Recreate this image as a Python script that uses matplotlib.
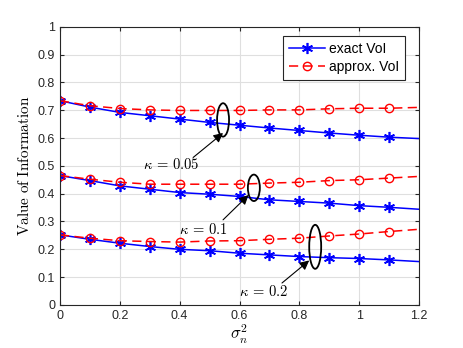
import numpy as np
import matplotlib
matplotlib.use("Agg")
import matplotlib.pyplot as plt
from matplotlib.patches import Ellipse

# noise variance sigma_n^2
sigma2 = [0.0, 0.1, 0.2, 0.3, 0.4, 0.5, 0.6, 0.7, 0.8, 0.9, 1.0, 1.1, 1.2]

# kappa = 0.05
exact_005 = [0.734, 0.711, 0.692, 0.680, 0.668, 0.656, 0.646, 0.636, 0.627, 0.618, 0.610, 0.603, 0.598]
approx_005 = [0.734, 0.716, 0.706, 0.701, 0.699, 0.699, 0.699, 0.701, 0.701, 0.705, 0.707, 0.707, 0.710]
# kappa = 0.1
exact_01 = [0.465, 0.447, 0.428, 0.416, 0.404, 0.398, 0.390, 0.378, 0.372, 0.366, 0.357, 0.351, 0.344]
approx_01 = [0.465, 0.452, 0.441, 0.434, 0.434, 0.434, 0.434, 0.438, 0.441, 0.447, 0.450, 0.456, 0.462]
# kappa = 0.2
exact_02 = [0.252, 0.236, 0.222, 0.210, 0.200, 0.195, 0.186, 0.180, 0.174, 0.170, 0.167, 0.162, 0.156]
approx_02 = [0.252, 0.240, 0.231, 0.228, 0.226, 0.230, 0.231, 0.236, 0.240, 0.248, 0.255, 0.264, 0.272]

kappa_labels = [r"$\kappa\,=\,0.05$", r"$\kappa\,=\,0.1$", r"$\kappa\,=\,0.2$"]


def main():
    plt.rcParams["mathtext.fontset"] = "cm"
    plt.rcParams["font.family"] = "Liberation Sans"

    fig = plt.figure(figsize=(4.63, 3.48), dpi=100)
    ax = fig.add_axes([0.1296, 0.1236, 0.7754, 0.7997])

    x = np.array(sigma2)
    pairs = [(exact_005, approx_005), (exact_01, approx_01), (exact_02, approx_02)]
    for k, (ex, ap) in enumerate(pairs):
        ax.plot(x, ex, color="blue", lw=1.1, ls="-", marker=(6, 2, 0), ms=8, mew=1.2,
                markevery=list(range(12)), label="exact VoI" if k == 0 else None)
        ax.plot(x, ap, color="red", lw=1.1, ls=(0, (6, 3.5)), marker="o", ms=6,
                mfc="none", mew=1.0, markevery=list(range(12)),
                label="approx. VoI" if k == 0 else None)

    # ellipses + arrows marking each kappa group
    ells = [(0.545, 0.665, 0.12), (0.648, 0.421, 0.095), (0.853, 0.209, 0.158)]
    texts = [(0.37, 0.504), (0.478, 0.272), (0.68, 0.05)]
    tails = [(0.445, 0.530), (0.545, 0.306), (0.742, 0.079)]
    heads = [(0.545, 0.618), (0.630, 0.395), (0.833, 0.160)]
    for (cx, cy, h), (tx, ty), tl, hd, lab in zip(ells, texts, tails, heads, kappa_labels):
        ax.add_patch(Ellipse((cx, cy), 0.04, h, fill=False, ec="black", lw=1.3, zorder=5))
        ax.annotate("", xy=hd, xytext=tl,
                    arrowprops=dict(arrowstyle="-|>", color="black", lw=0.8,
                                    mutation_scale=14, shrinkA=0, shrinkB=0))
        ax.text(tx, ty, lab, ha="center", va="center", fontsize=10.5)

    ax.set_xlim(0, 1.2)
    ax.set_ylim(0, 1)
    ax.set_xticks(np.arange(0, 1.21, 0.2))
    ax.set_xticklabels(["0", "0.2", "0.4", "0.6", "0.8", "1", "1.2"])
    ax.set_yticks(np.arange(0, 1.01, 0.1))
    ax.set_yticklabels(["0", "0.1", "0.2", "0.3", "0.4", "0.5", "0.6", "0.7", "0.8", "0.9", "1"])
    ax.tick_params(direction="in", top=True, right=True, labelsize=9, length=3,
                   color="#262626", labelcolor="#262626")
    ax.grid(True, color="#dfdfdf", lw=0.8)
    ax.set_axisbelow(True)
    for s in ax.spines.values():
        s.set_color("#262626")
        s.set_linewidth(0.8)

    ax.set_xlabel(r"$\sigma_n^2$", fontsize=12, labelpad=1)
    ax.set_ylabel(r"$\mathrm{Value\ of\ Information}$", fontsize=11, labelpad=4)

    leg = ax.legend(loc="upper right", bbox_to_anchor=(0.96, 0.965), fontsize=10,
                    fancybox=False, framealpha=1, edgecolor="#262626",
                    handlelength=2.6, borderpad=0.4, labelspacing=0.3,
                    handletextpad=0.3, borderaxespad=0)
    leg.get_frame().set_linewidth(0.8)

    fig.savefig("out.png", dpi=100)


if __name__ == "__main__":
    main()
